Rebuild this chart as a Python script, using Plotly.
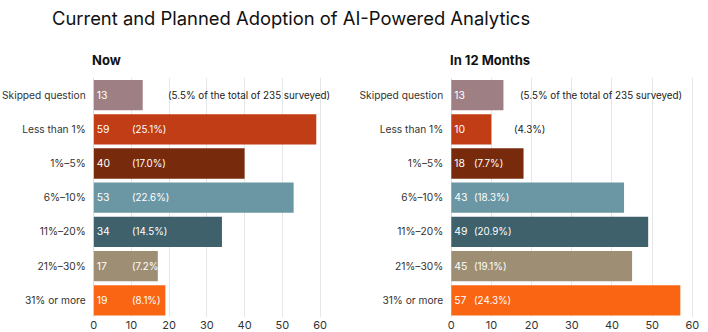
import plotly.graph_objects as go

categories = ["Skipped question", "Less than 1%", "1%\u20135%", "6%\u201310%",
              "11%\u201320%", "21%\u201330%", "31% or more"]
now_values = [13, 59, 40, 53, 34, 17, 19]
now_pct = ["(5.5% of the total of 235 surveyed)", "(25.1%)", "(17.0%)", "(22.6%)",
           "(14.5%)", "(7.2%)", "(8.1%)"]
future_values = [13, 10, 18, 43, 49, 45, 57]
future_pct = ["(5.5% of the total of 235 surveyed)", "(4.3%)", "(7.7%)", "(18.3%)",
              "(20.9%)", "(19.1%)", "(24.3%)"]
colors = ["#9E7F84", "#C03D15", "#782B0C", "#6B97A5", "#3E616C", "#9E8F74", "#FA6513"]
x_ticks = [0, 10, 20, 30, 40, 50, 60]

# label offsets in px from the zero line (style)
now_shift = [72, 36, 36, 36, 36, 36, 36]
future_shift = [67, 61, 21, 21, 21, 21, 21]
now_dark = [True, False, False, False, False, False, False]
future_dark = [True, True, False, False, False, False, False]

FONT = "Inter"
W, H = 708, 332

fig = go.Figure()
for vals, xa, ya in [(now_values, "x", "y"), (future_values, "x2", "y2")]:
    fig.add_trace(go.Bar(
        x=vals, y=categories, orientation="h",
        marker=dict(color=colors, line=dict(width=0)),
        text=[str(v) for v in vals], textposition="inside",
        insidetextanchor="start", textangle=0,
        textfont=dict(color="white", size=10.4, family=FONT),
        cliponaxis=False,
        xaxis=xa, yaxis=ya, showlegend=False, hoverinfo="skip",
    ))

annotations = []
for pcts, shifts, dark, xr, yr in [(now_pct, now_shift, now_dark, "x", "y"),
                                   (future_pct, future_shift, future_dark, "x2", "y2")]:
    for cat, p, s, d in zip(categories, pcts, shifts, dark):
        annotations.append(dict(
            x=0, y=cat, xref=xr, yref=yr, text=p, showarrow=False,
            xanchor="left", yanchor="middle", xshift=s,
            font=dict(size=9.8, family=FONT, color="#1a1a1a" if d else "white"),
        ))

annotations.append(dict(x=48 / W, y=1 - 18 / H, xref="paper", yref="paper",
                        text="Current and Planned Adoption of AI-Powered Analytics",
                        showarrow=False, xanchor="left", yanchor="middle",
                        font=dict(size=18.4, family=FONT, color="#111")))
annotations.append(dict(x=88 / W, y=1 - 60 / H, xref="paper", yref="paper",
                        text="<b>Now</b>", showarrow=False, xanchor="left", yanchor="middle",
                        font=dict(size=13, family=FONT, color="#111")))
annotations.append(dict(x=450 / W, y=1 - 60 / H, xref="paper", yref="paper",
                        text="<b>In 12 Months</b>", showarrow=False, xanchor="left",
                        yanchor="middle", font=dict(size=13, family=FONT, color="#111")))

ydom = [(H - 317.4) / H, (H - 78) / H]
xaxis_common = dict(tickvals=x_ticks, showgrid=True, gridcolor="#e6e6e6", gridwidth=1,
                    zeroline=True, zerolinecolor="#dcdcdc", zerolinewidth=1,
                    showline=False, ticks="",
                    tickfont=dict(size=11, family=FONT, color="#333"))
yaxis_common = dict(autorange="reversed", showgrid=False, zeroline=False, showline=False,
                    ticks="", ticklabelstandoff=7,
                    tickfont=dict(size=10.2, family=FONT, color="#333"))

fig.update_layout(
    width=W, height=H,
    margin=dict(l=0, r=0, t=0, b=0),
    paper_bgcolor="white", plot_bgcolor="white",
    bargap=0.114,
    xaxis=dict(domain=[91.7 / W, 324.5 / W], range=[0, 61], anchor="y", **xaxis_common),
    xaxis2=dict(domain=[453.3 / W, 699.3 / W], range=[0, 60.5], anchor="y2", **xaxis_common),
    yaxis=dict(domain=ydom, anchor="x", **yaxis_common),
    yaxis2=dict(domain=ydom, anchor="x2", **yaxis_common),
    annotations=annotations,
    font=dict(family=FONT),
    uniformtext=dict(minsize=10, mode="show"),
)

fig.write_html("out.html")
